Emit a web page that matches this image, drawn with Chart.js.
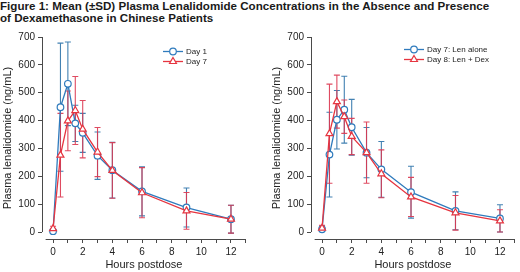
<!DOCTYPE html>
<html>
<head>
<meta charset="utf-8">
<script src="https://cdn.jsdelivr.net/npm/chart.js@4.4.1/dist/chart.umd.min.js"></script>
<style>
  html, body { margin: 0; padding: 0; background: #fff; }
  body { width: 520px; height: 272px; position: relative; overflow: hidden; font-family: "Liberation Sans", Arial, sans-serif; }
  #title { position: absolute; left: 0; top: 0; font-weight: bold; font-size: 11.6px; line-height: 12.4px; color: #1a1a1a; white-space: nowrap; }
  .box { position: absolute; top: 28px; width: 251px; height: 244px; }
</style>
</head>
<body>
<div id="title">Figure 1: Mean (±SD) Plasma Lenalidomide Concentrations in the Absence and Presence<br>of Dexamethasone in Chinese Patients</div>
<div class="box" style="left:0"><canvas id="leftChart" width="251" height="244"></canvas></div>
<div class="box" style="left:269px"><canvas id="rightChart" width="251" height="244"></canvas></div>
<script>
const hours = [0, 0.5, 1, 1.5, 2, 3, 4, 6, 9, 12];

// left panel
const day1Mean = [3, 448, 532, 390, 356, 274, 222, 146, 88, 46];
const day1Sd = [4, 230, 150, 65, 70, 85, 100, 88, 70, 50];
const day7Mean = [12, 276, 399, 436, 369, 287, 221, 141, 76, 46];
const day7Sd = [9, 150, 107, 122, 103, 88, 100, 90, 66, 50];

// right panel
const lenAloneMean = [10, 278, 403, 439, 376, 285, 225, 143, 76, 49];
const lenAloneSd = [8, 152, 105, 120, 100, 90, 100, 93, 68, 49];
const lenDexMean = [14, 353, 468, 414, 343, 285, 209, 126, 69, 40];
const lenDexSd = [10, 178, 95, 60, 65, 110, 86, 70, 62, 40];

const xTicks = [0, 1, 2, 3, 4, 5, 6, 7, 8, 9, 10, 11, 12, 13];
const xLabels = [0, 2, 4, 6, 8, 10, 12];
const yTicks = [0, 50, 100, 150, 200, 250, 300, 350, 400, 450, 500, 550, 600, 650, 700];
const yLabels = [0, 100, 200, 300, 400, 500, 600, 700];

const BLUE = '#2f7bbd';
const RED = '#e63540';
const FONT = "'Liberation Sans', Arial, sans-serif";
const AXIS = '#4a4a4a';

const toPoints = (means) => means.map((v, i) => ({ x: hours[i], y: v }));

const errorBars = {
  id: 'errorBars',
  beforeDatasetsDraw(chart) {
    const { ctx, scales: { x, y } } = chart;
    ctx.save();
    chart.data.datasets.forEach((ds) => {
      ctx.strokeStyle = ds.errorColor;
      ctx.lineWidth = 1.1;
      ds.sd.forEach((sd, i) => {
        const px = x.getPixelForValue(hours[i]);
        const top = y.getPixelForValue(ds.data[i].y + sd);
        const bot = y.getPixelForValue(ds.data[i].y - sd);
        ctx.beginPath();
        ctx.moveTo(px, top); ctx.lineTo(px, bot);
        ctx.moveTo(px - 3, top); ctx.lineTo(px + 3, top);
        ctx.moveTo(px - 3, bot); ctx.lineTo(px + 3, bot);
        ctx.stroke();
      });
    });
    ctx.restore();
  }
};

const axisLines = {
  id: 'axisLines',
  afterDraw(chart) {
    const { ctx, chartArea, scales: { x, y } } = chart;
    ctx.save();
    ctx.strokeStyle = AXIS;
    ctx.lineWidth = 1;
    ctx.beginPath();
    ctx.moveTo(chartArea.left + 0.5, y.getPixelForValue(0));
    ctx.lineTo(chartArea.left + 0.5, y.getPixelForValue(700));
    ctx.moveTo(x.getPixelForValue(-0.5), chartArea.bottom + 0.5);
    ctx.lineTo(chartArea.right, chartArea.bottom + 0.5);
    ctx.stroke();
    ctx.restore();
  }
};

const insideLegend = {
  id: 'insideLegend',
  afterDraw(chart, args, opts) {
    const { ctx } = chart;
    ctx.save();
    ctx.font = `8px ${FONT}`;
    ctx.textBaseline = 'middle';
    chart.data.datasets.forEach((ds, i) => {
      const x0 = opts.x;
      const y0 = opts.y + i * opts.gap;
      ctx.strokeStyle = ds.borderColor;
      ctx.lineWidth = 1.3;
      ctx.beginPath();
      ctx.moveTo(x0, y0); ctx.lineTo(x0 + 20, y0);
      ctx.stroke();
      ctx.fillStyle = '#fff';
      ctx.lineWidth = 1.2;
      Chart.helpers.drawPoint(ctx, { pointStyle: ds.pointStyle, radius: ds.pointRadius, rotation: 0, borderWidth: 1.2 }, x0 + 10, y0);
      ctx.fillStyle = '#222';
      ctx.fillText(ds.label, x0 + 23, y0 + 0.5);
    });
    ctx.restore();
  }
};

function makeChart(id, sets, legendPos) {
  return new Chart(document.getElementById(id), {
    type: 'line',
    data: {
      datasets: sets.map((s) => ({
        label: s.label,
        data: toPoints(s.mean),
        sd: s.sd,
        borderColor: s.color,
        errorColor: s.errColor,
        borderWidth: 1.3,
        pointStyle: s.marker,
        pointRadius: s.marker === 'triangle' ? 4 : 3.3,
        pointBorderWidth: 1.2,
        pointBackgroundColor: '#fff',
        pointBorderColor: s.color,
        tension: 0,
        order: s.order
      }))
    },
    options: {
      responsive: false,
      animation: false,
      events: [],
      layout: { padding: { top: 8, right: 0.5, left: 0, bottom: 0 } },
      plugins: {
        legend: { display: false },
        tooltip: { enabled: false },
        insideLegend: legendPos
      },
      scales: {
        x: {
          type: 'linear',
          min: -0.745,
          max: 13,
          afterFit: (scale) => { scale.height = 33; },
          afterBuildTicks: (axis) => { axis.ticks = xTicks.map((v) => ({ value: v })); },
          border: { display: false },
          grid: { drawOnChartArea: false, drawTicks: true, tickLength: 4, color: AXIS },
          ticks: {
            autoSkip: false,
            maxRotation: 0,
            padding: 3,
            color: '#222',
            font: { size: 10, family: FONT },
            callback: (v) => xLabels.includes(v) ? String(v) : ''
          },
          title: { display: true, text: 'Hours postdose', color: '#222', padding: { top: 0, bottom: 0 }, font: { size: 11, family: FONT } }
        },
        y: {
          min: -25,
          max: 700,
          afterFit: (scale) => { scale.width = 42; },
          afterBuildTicks: (axis) => { axis.ticks = yTicks.map((v) => ({ value: v })); },
          border: { display: false },
          grid: { drawOnChartArea: false, drawTicks: true, tickLength: 4, color: AXIS },
          ticks: {
            padding: 3,
            color: '#222',
            font: { size: 10, family: FONT },
            callback: (v) => yLabels.includes(v) ? String(v) : ''
          },
          title: { display: true, text: 'Plasma lenalidomide (ng/mL)', color: '#222', padding: { top: 1, bottom: 0 }, font: { size: 11, family: FONT } }
        }
      }
    },
    plugins: [errorBars, axisLines, insideLegend]
  });
}

makeChart('leftChart', [
  { label: 'Day 1', mean: day1Mean, sd: day1Sd, color: BLUE, errColor: 'rgba(45,115,170,0.9)', marker: 'circle', order: 1 },
  { label: 'Day 7', mean: day7Mean, sd: day7Sd, color: RED, errColor: 'rgba(220,55,80,0.9)', marker: 'triangle', order: 0 }
], { x: 163, y: 23.5, gap: 10 });

makeChart('rightChart', [
  { label: 'Day 7: Len alone', mean: lenAloneMean, sd: lenAloneSd, color: BLUE, errColor: 'rgba(45,115,170,0.9)', marker: 'circle', order: 1 },
  { label: 'Day 8: Len + Dex', mean: lenDexMean, sd: lenDexSd, color: RED, errColor: 'rgba(220,55,80,0.9)', marker: 'triangle', order: 0 }
], { x: 135, y: 21.5, gap: 10 });
</script>
</body>
</html>
